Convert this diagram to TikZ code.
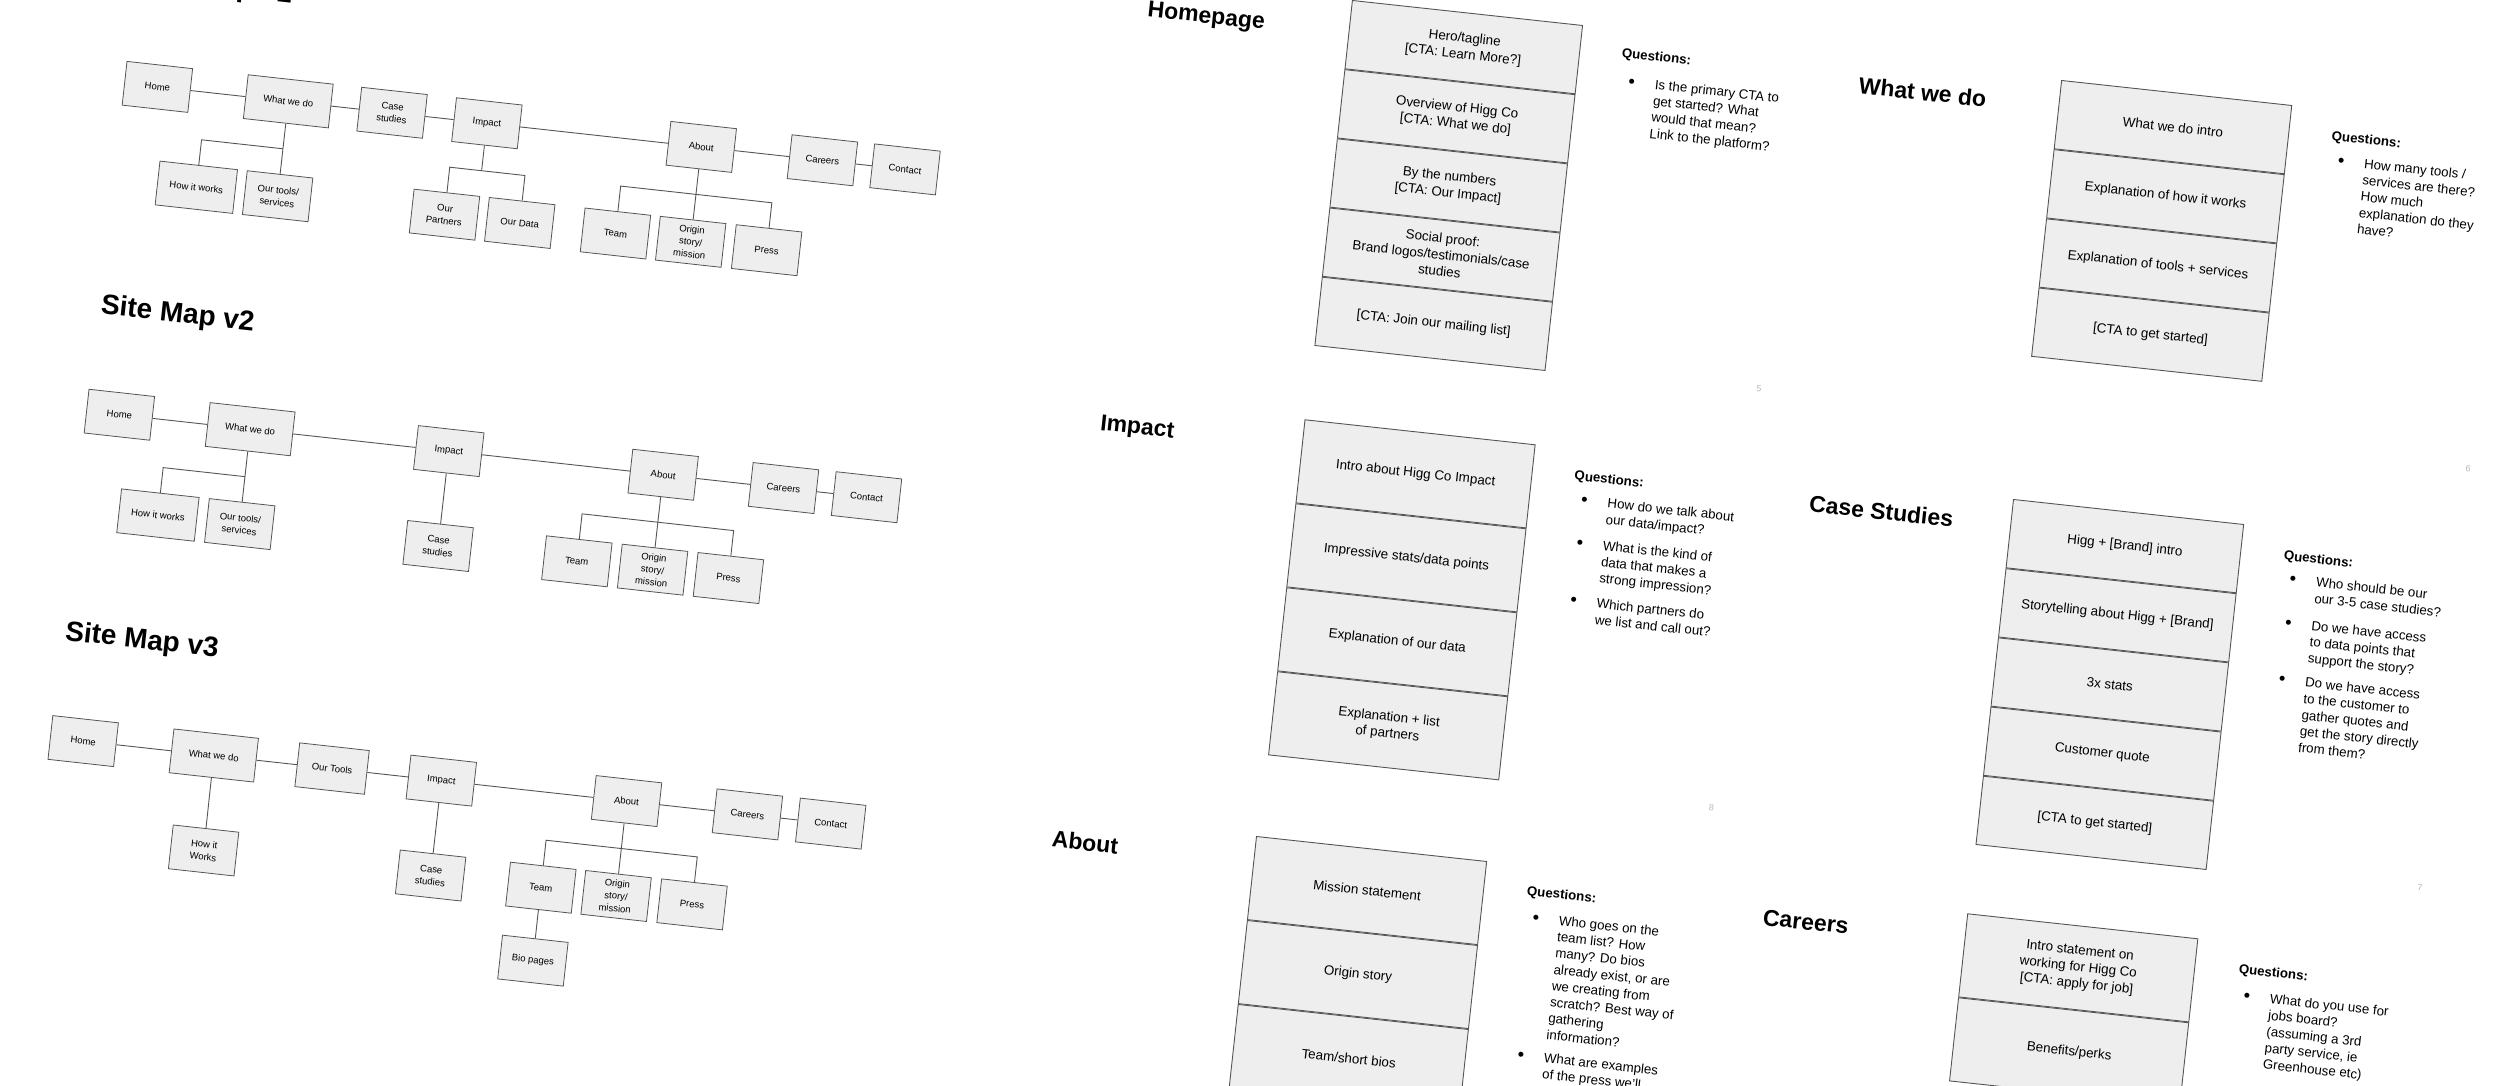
\documentclass[tikz,border=0pt]{standalone}
\usepackage{fontspec}
\setmainfont{Liberation Sans}
\usepackage{tikz}
\usetikzlibrary{positioning, calc}
\definecolor{boxfill}{RGB}{238,238,238}
\definecolor{boxline}{RGB}{85,85,85}
\definecolor{numgray}{RGB}{185,185,185}
\newcommand{\mapfont}{\fontsize{9.5}{12.5}\selectfont}
\newcommand{\secfont}{\fontsize{13.4}{16.6}\selectfont}
\newcommand{\qfont}{\fontsize{13.3}{16.4}\selectfont}
\tikzstyle{mapbox} = [rectangle, minimum width=66pt, minimum height=44pt, inner sep=1pt, align=center, draw=boxline, fill=boxfill, line width=0.8pt, font=\mapfont]
\tikzstyle{maplink} = [draw=boxline, line width=0.9pt]
\tikzstyle{secbox} = [rectangle, minimum width=231.5pt, minimum height=68.7pt, inner sep=2pt, align=center, draw=boxline, fill=boxfill, line width=0.9pt, font=\secfont]
\tikzstyle{tallbox} = [secbox, minimum height=83.6pt]
\tikzstyle{maptitle} = [anchor=base west, inner sep=0pt, font=\bfseries\fontsize{28}{32}\selectfont]
\tikzstyle{pagetitle} = [anchor=base west, inner sep=0pt, font=\bfseries\fontsize{23}{27}\selectfont]
\tikzstyle{qhead} = [anchor=base west, inner sep=0pt, font=\bfseries\qfont]
\tikzstyle{qbullet} = [anchor=base, inner sep=0pt, yshift=-1pt, font=\fontsize{18.5}{20}\selectfont]
\tikzstyle{qtext} = [anchor=north west, inner sep=0pt, align=left, font=\qfont]
\tikzstyle{pagenum} = [inner sep=0pt, text=numgray, font=\fontsize{9}{10}\selectfont]

\begin{document}
\begin{tikzpicture}[x=1pt, y=1pt]
\useasboundingbox (0,0) rectangle (2500,1085);
\fill [white] (0,0) rectangle (2500,1085);
\clip (0,0) rectangle (2500,1085);

% site map v1
\begin{scope}[shift={(157.4,998.1)}, rotate=-6.3, transform shape]
\node (v1title) [maptitle] at (-30.2,98.1) {Site Map v1};
\node (v1home) [mapbox] at (0,0) {Home};
\node (v1what) [mapbox, minimum width=85.5pt] at (131.7,0) {What we do};
\node (v1case) [mapbox] at (236.1,0) {Case\\studies};
\node (v1impact) [mapbox] at (331.5,0) {Impact};
\node (v1about) [mapbox] at (547.2,0) {About};
\node (v1careers) [mapbox] at (669.1,0) {Careers};
\node (v1contact) [mapbox] at (752.2,0) {Contact};
\node (v1how) [mapbox, minimum width=78pt] at (49.7,-95.5) {How it works};
\node (v1tools) [mapbox] at (131.5,-95.5) {Our tools/\\services};
\node (v1partners) [mapbox] at (299.4,-95.5) {Our\\Partners};
\node (v1data) [mapbox] at (375.1,-95.5) {Our Data};
\node (v1team) [mapbox] at (471.4,-95.5) {Team};
\node (v1origin) [mapbox] at (547.1,-95.5) {Origin\\story/\\mission};
\node (v1press) [mapbox] at (623.5,-95.5) {Press};

\draw [maplink] (v1home) -- (v1what) (v1what) -- (v1case) (v1case) -- (v1impact)
  (v1impact) -- (v1about) (v1about) -- (v1careers) (v1careers) -- (v1contact);
\draw [maplink] (v1what) -- (v1tools);
\draw [maplink] (v1how.north) |- ($(v1what.south)!0.5!(v1tools.north)$);
\coordinate (v1impbar) at ($(v1impact.south)!0.5!(v1impact.south |- v1partners.north)$);
\draw [maplink] (v1impact.south) -- (v1impbar);
\draw [maplink] (v1partners.north) |- (v1impbar) -| (v1data.north);
\draw [maplink] (v1about) -- (v1origin);
\draw [maplink] (v1team.north) |- ($(v1about.south)!0.5!(v1origin.north)$) -| (v1press.north);
\end{scope}

% site map v2
\begin{scope}[shift={(119.4,670.25)}, rotate=-6.3, transform shape]
\node (v2title) [maptitle] at (-30.2,98.1) {Site Map v2};
\node (v2home) [mapbox] at (0,0) {Home};
\node (v2what) [mapbox, minimum width=85.5pt] at (131.6,0) {What we do};
\node (v2impact) [mapbox] at (331.4,0) {Impact};
\node (v2about) [mapbox] at (547.1,0) {About};
\node (v2careers) [mapbox] at (668.2,0) {Careers};
\node (v2contact) [mapbox] at (751.7,0) {Contact};
\node (v2how) [mapbox, minimum width=78pt] at (49.3,-95.5) {How it works};
\node (v2tools) [mapbox] at (131.6,-95.5) {Our tools/\\services};
\node (v2case) [mapbox] at (331.2,-95.5) {Case\\studies};
\node (v2team) [mapbox] at (470.8,-95.5) {Team};
\node (v2origin) [mapbox] at (547,-95.5) {Origin\\story/\\mission};
\node (v2press) [mapbox] at (623.3,-95.5) {Press};

\draw [maplink] (v2home) -- (v2what) (v2what) -- (v2impact) (v2impact) -- (v2about)
  (v2about) -- (v2careers) (v2careers) -- (v2contact);
\draw [maplink] (v2what) -- (v2tools);
\draw [maplink] (v2how.north) |- ($(v2what.south)!0.5!(v2tools.north)$);
\draw [maplink] (v2impact) -- (v2case);
\draw [maplink] (v2about) -- (v2origin);
\draw [maplink] (v2team.north) |- ($(v2about.south)!0.5!(v2origin.north)$) -| (v2press.north);
\end{scope}

% site map v3
\begin{scope}[shift={(83.2,343.9)}, rotate=-6.3, transform shape]
\node (v3title) [maptitle] at (-29.8,98.4) {Site Map v3};
\node (v3home) [mapbox] at (0,0) {Home};
\node (v3what) [mapbox, minimum width=85pt] at (131.4,0) {What we do};
\node (v3tools) [mapbox, minimum width=70pt] at (250.4,0) {Our Tools};
\node (v3impact) [mapbox] at (360.3,0) {Impact};
\node (v3about) [mapbox] at (546.7,0) {About};
\node (v3careers) [mapbox] at (668.3,0) {Careers};
\node (v3contact) [mapbox] at (752.1,0) {Contact};
\node (v3how) [mapbox] at (131.7,-95.5) {How it\\Works};
\node (v3case) [mapbox] at (360.1,-95.5) {Case\\studies};
\node (v3team) [mapbox] at (471,-95.5) {Team};
\node (v3origin) [mapbox] at (546.7,-95.5) {Origin\\story/\\mission};
\node (v3press) [mapbox] at (623.1,-95.5) {Press};
\node (v3bio) [mapbox] at (471.1,-168.9) {Bio pages};

\draw [maplink] (v3home) -- (v3what) (v3what) -- (v3tools) (v3tools) -- (v3impact)
  (v3impact) -- (v3about) (v3about) -- (v3careers) (v3careers) -- (v3contact);
\draw [maplink] (v3what) -- (v3how);
\draw [maplink] (v3impact) -- (v3case);
\draw [maplink] (v3about) -- (v3origin);
\draw [maplink] (v3team.north) |- ($(v3about.south)!0.5!(v3origin.north)$) -| (v3press.north);
\draw [maplink] (v3team) -- (v3bio);
\end{scope}

% Homepage
\begin{scope}[shift={(1352,1085)}, rotate=-6.2, transform shape]
\node (hptitle) [pagetitle] at (-202.1,-38.7) {Homepage};
\node (hp1) [secbox, anchor=north west] at (0,0) {Hero/tagline\\{}[CTA: Learn More?]};
\node (hp2) [secbox, below=0pt of hp1] {Overview of Higg Co\\{}[CTA: What we do]};
\node (hp3) [secbox, below=0pt of hp2] {By the numbers\\{}[CTA: Our Impact]};
\node (hp4) [secbox, below=0pt of hp3] {Social proof:\\Brand logos/testimonials/case\\studies};
\node (hp5) [secbox, below=0pt of hp4] {[CTA: Join our mailing list]};
\node (hpq) [qhead] at (274,-27.9) {Questions:};
\node (hpb1) [qbullet] at (287,-55.8) {\textbullet};
\node (hpt1) [qtext] at (310.2,-44.3) {\strut Is the primary CTA to\\get started? What\\would that mean?\\Link to the platform?};
\node (hpnum) [pagenum] at (446.5,-342.5) {5};
\end{scope}

% What we do
\begin{scope}[shift={(2061.2,1005)}, rotate=-6.2, transform shape]
\node (wdtitle) [pagetitle] at (-200.6,-35.1) {What we do};
\node (wd1) [secbox, anchor=north west] at (0,0) {What we do intro};
\node (wd2) [secbox, below=0pt of wd1] {Explanation of how it works};
\node (wd3) [secbox, below=0pt of wd2] {Explanation of tools + services};
\node (wd4) [secbox, below=0pt of wd3] {[CTA to get started]};
\node (wdq) [qhead] at (274.9,-30.5) {Questions:};
\node (wdb1) [qbullet] at (287,-55) {\textbullet};
\node (wdt1) [qtext] at (310.2,-43.5) {\strut How many tools /\\services are there?\\How much\\explanation do they\\have?};
\node (wdnum) [pagenum] at (446.5,-342.5) {6};
\end{scope}

% Impact
\begin{scope}[shift={(1304.6,665.7)}, rotate=-6.2, transform shape]
\node (imtitle) [pagetitle] at (-202.7,-32.8) {Impact};
\node (im1) [tallbox, anchor=north west] at (0,0) {Intro about Higg Co Impact};
\node (im2) [tallbox, below=0pt of im1] {Impressive stats/data points};
\node (im3) [tallbox, below=0pt of im2] {Explanation of our data};
\node (im4) [tallbox, below=0pt of im3] {Explanation + list\\of partners};
\node (imq) [qhead] at (274.4,-31.2) {Questions:};
\node (imb1) [qbullet] at (287,-55.1) {\textbullet};
\node (imt1) [qtext] at (310.2,-43.6) {\strut How do we talk about\\our data/impact?};
\node (imb2) [qbullet] at (287,-97.7) {\textbullet};
\node (imt2) [qtext] at (310.2,-86.2) {\strut What is the kind of\\data that makes a\\strong impression?};
\node (imb3) [qbullet] at (287,-155.8) {\textbullet};
\node (imt3) [qtext] at (310.2,-144.3) {\strut Which partners do\\we list and call out?};
\node (imnum) [pagenum] at (446.5,-342.5) {8};
\end{scope}

% Case Studies
\begin{scope}[shift={(2013.1,586)}, rotate=-6.2, transform shape]
\node (cstitle) [pagetitle] at (-202.1,-34.7) {Case Studies};
\node (cs1) [secbox, anchor=north west] at (0,0) {Higg + [Brand] intro};
\node (cs2) [secbox, below=0pt of cs1] {Storytelling about Higg + [Brand]};
\node (cs3) [secbox, below=0pt of cs2] {3x stats};
\node (cs4) [secbox, below=0pt of cs3] {Customer quote};
\node (cs5) [secbox, below=0pt of cs4] {[CTA to get started]};
\node (csq) [qhead] at (275.2,-31.4) {Questions:};
\node (csb1) [qbullet] at (287,-54.4) {\textbullet};
\node (cst1) [qtext] at (310.2,-42.9) {\strut Who should be our\\our 3-5 case studies?};
\node (csb2) [qbullet] at (287,-98) {\textbullet};
\node (cst2) [qtext] at (310.2,-86.5) {\strut Do we have access\\to data points that\\support the story?};
\node (csb3) [qbullet] at (287,-155.1) {\textbullet};
\node (cst3) [qtext] at (310.2,-143.6) {\strut Do we have access\\to the customer to\\gather quotes and\\get the story directly\\from them?};
\node (csnum) [pagenum] at (446.5,-342.5) {7};
\end{scope}

% About
\begin{scope}[shift={(1256.1,249)}, rotate=-6.2, transform shape]
\node (abtitle) [pagetitle] at (-202.7,-32.8) {About};
\node (ab1) [tallbox, anchor=north west] at (0,0) {Mission statement};
\node (ab2) [tallbox, below=0pt of ab1] {Origin story};
\node (ab3) [tallbox, below=0pt of ab2] {Team/short bios};
\node (abq) [qhead] at (275.2,-29.5) {Questions:};
\node (abb1) [qbullet] at (287,-55.8) {\textbullet};
\node (abt1) [qtext] at (310.2,-44.3) {\strut Who goes on the\\team list? How\\many? Do bios\\already exist, or are\\we creating from\\scratch? Best way of\\gathering\\information?};
\node (abb2) [qbullet] at (287,-194) {\textbullet};
\node (abt2) [qtext] at (310.2,-182.5) {\strut What are examples\\of the press we'll};
\end{scope}

% Careers
\begin{scope}[shift={(1967.3,171.7)}, rotate=-6.2, transform shape]
\node (crtitle) [pagetitle] at (-202.6,-33.8) {Careers};
\node (cr1) [tallbox, anchor=north west] at (0,0) {Intro statement on\\working for Higg Co\\{}[CTA: apply for job]};
\node (cr2) [tallbox, below=0pt of cr1] {Benefits/perks};
\node (crq) [qhead] at (275.9,-30.4) {Questions:};
\node (crb1) [qbullet] at (287,-56.8) {\textbullet};
\node (crt1) [qtext] at (310.2,-45.3) {\strut What do you use for\\jobs board?\\(assuming a 3rd\\party service, ie\\Greenhouse etc)};
\end{scope}
\end{tikzpicture}
\end{document}
